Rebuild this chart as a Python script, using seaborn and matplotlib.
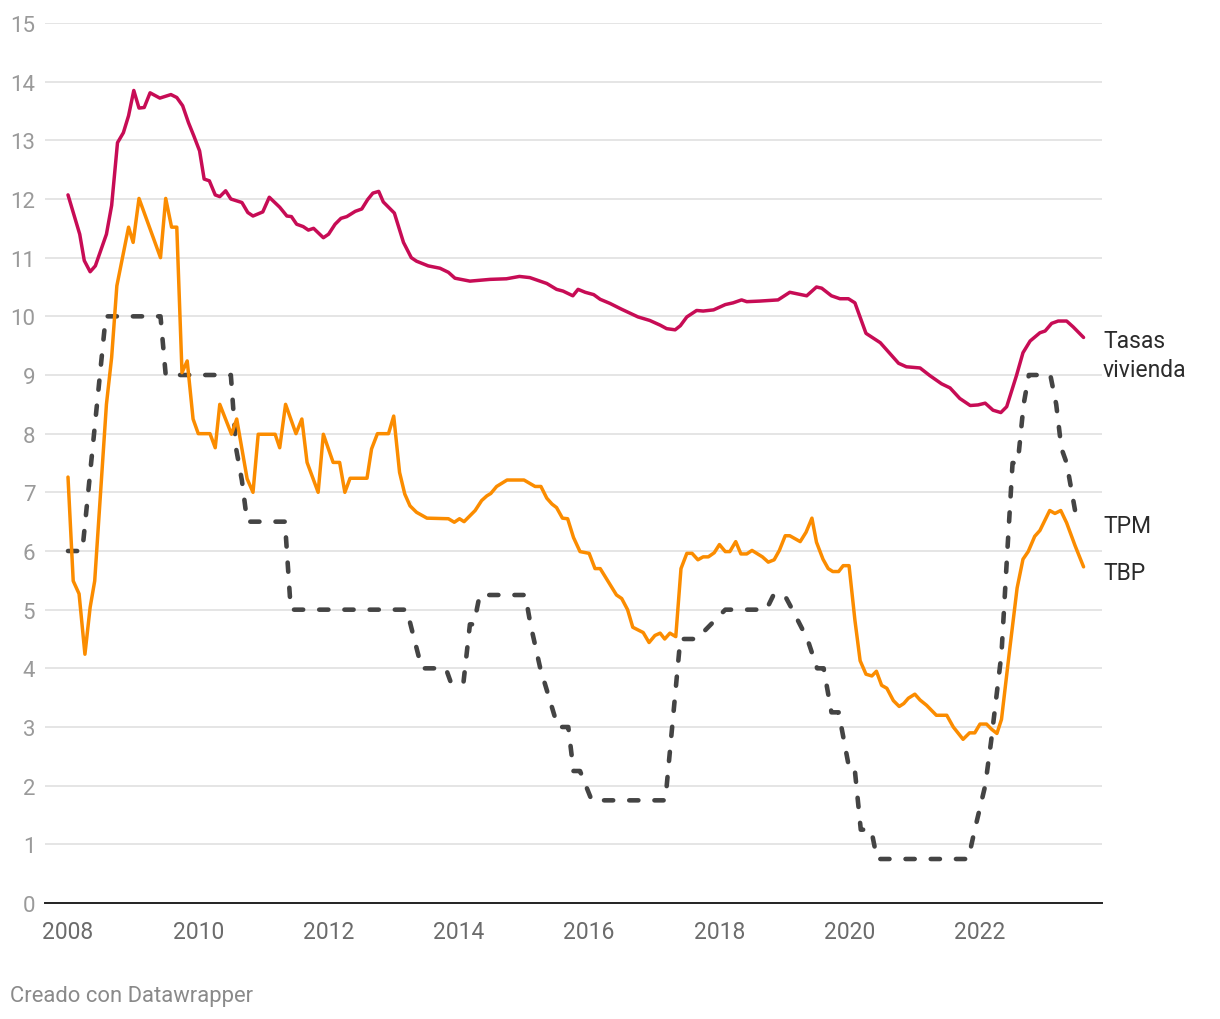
import matplotlib
matplotlib.use("Agg")
import matplotlib.pyplot as plt
import seaborn as sns
import pandas as pd

# --- DATA ---
viv_x = [2008.0, 2008.18, 2008.25, 2008.34, 2008.42, 2008.59, 2008.67, 2008.76, 2008.85, 2008.93,
         2009.01, 2009.09, 2009.17, 2009.26, 2009.41, 2009.58, 2009.67, 2009.76, 2009.85, 2009.93,
         2010.02, 2010.09, 2010.17, 2010.26, 2010.33, 2010.42, 2010.5, 2010.67, 2010.76, 2010.84,
         2010.99, 2011.09, 2011.25, 2011.36, 2011.43, 2011.51, 2011.61, 2011.69, 2011.77, 2011.92,
         2012.0, 2012.1, 2012.19, 2012.28, 2012.41, 2012.51, 2012.6, 2012.68, 2012.77, 2012.84,
         2013.01, 2013.15, 2013.27, 2013.35, 2013.53, 2013.71, 2013.84, 2013.94, 2014.17, 2014.48,
         2014.73, 2014.93, 2015.09, 2015.35, 2015.5, 2015.6, 2015.75, 2015.83, 2015.94, 2016.07,
         2016.17, 2016.32, 2016.5, 2016.75, 2016.93, 2017.09, 2017.19, 2017.32, 2017.4, 2017.5,
         2017.65, 2017.75, 2017.91, 2018.09, 2018.21, 2018.34, 2018.42, 2018.62, 2018.9, 2019.08,
         2019.34, 2019.49, 2019.57, 2019.72, 2019.85, 2019.98, 2020.08, 2020.25, 2020.47, 2020.75,
         2020.87, 2021.08, 2021.23, 2021.41, 2021.54, 2021.69, 2021.85, 2021.97, 2022.08, 2022.2,
         2022.32, 2022.41, 2022.56, 2022.66, 2022.77, 2022.92, 2023.0, 2023.1, 2023.2, 2023.33,
         2023.43, 2023.59]
viv_y = [12.07, 11.4, 10.95, 10.76, 10.86, 11.4, 11.89, 12.96, 13.13, 13.42,
         13.85, 13.55, 13.56, 13.81, 13.72, 13.78, 13.73, 13.59, 13.3, 13.08,
         12.82, 12.34, 12.31, 12.07, 12.04, 12.14, 12.0, 11.94, 11.77, 11.71,
         11.78, 12.03, 11.86, 11.71, 11.7, 11.57, 11.53, 11.47, 11.5, 11.34,
         11.4, 11.57, 11.67, 11.7, 11.79, 11.83, 11.99, 12.1, 12.13, 11.95,
         11.76, 11.26, 11.0, 10.94, 10.86, 10.82, 10.75, 10.65, 10.6, 10.63,
         10.64, 10.68, 10.66, 10.56, 10.46, 10.43, 10.35, 10.46, 10.41, 10.37,
         10.29, 10.22, 10.12, 9.99, 9.93, 9.85, 9.79, 9.77, 9.84, 9.99,
         10.1, 10.09, 10.11, 10.2, 10.23, 10.28, 10.25, 10.26, 10.28, 10.41,
         10.35, 10.5, 10.48, 10.35, 10.3, 10.3, 10.23, 9.71, 9.55, 9.2,
         9.14, 9.12, 8.99, 8.85, 8.78, 8.6, 8.48, 8.49, 8.52, 8.4,
         8.36, 8.46, 8.99, 9.38, 9.58, 9.72, 9.75, 9.88, 9.92, 9.92,
         9.82, 9.64]

tbp_x = [2008.0, 2008.08, 2008.17, 2008.26, 2008.34, 2008.41, 2008.59, 2008.67, 2008.75, 2008.93,
         2009.0, 2009.09, 2009.42, 2009.5, 2009.59, 2009.67, 2009.75, 2009.83, 2009.92, 2010.0,
         2010.18, 2010.26, 2010.33, 2010.51, 2010.59, 2010.75, 2010.84, 2010.92, 2011.18, 2011.25,
         2011.34, 2011.5, 2011.59, 2011.67, 2011.84, 2011.92, 2012.07, 2012.17, 2012.25, 2012.33,
         2012.59, 2012.66, 2012.75, 2012.92, 2013.0, 2013.09, 2013.17, 2013.25, 2013.35, 2013.51,
         2013.84, 2013.93, 2014.01, 2014.08, 2014.25, 2014.35, 2014.43, 2014.49, 2014.58, 2014.74,
         2015.0, 2015.17, 2015.26, 2015.35, 2015.43, 2015.5, 2015.59, 2015.67, 2015.76, 2015.86,
         2016.0, 2016.09, 2016.17, 2016.42, 2016.5, 2016.59, 2016.67, 2016.83, 2016.92, 2017.01,
         2017.09, 2017.16, 2017.24, 2017.33, 2017.41, 2017.5, 2017.58, 2017.67, 2017.75, 2017.83,
         2017.92, 2018.0, 2018.09, 2018.16, 2018.25, 2018.33, 2018.42, 2018.5, 2018.66, 2018.75,
         2018.84, 2018.92, 2019.01, 2019.08, 2019.24, 2019.33, 2019.42, 2019.49, 2019.59, 2019.67,
         2019.74, 2019.83, 2019.9, 2019.99, 2020.08, 2020.16, 2020.25, 2020.34, 2020.41, 2020.49,
         2020.57, 2020.67, 2020.76, 2020.83, 2020.9, 2021.0, 2021.08, 2021.18, 2021.33, 2021.49,
         2021.59, 2021.74, 2021.84, 2021.92, 2022.0, 2022.1, 2022.18, 2022.26, 2022.33, 2022.46,
         2022.57, 2022.66, 2022.74, 2022.84, 2022.92, 2023.07, 2023.15, 2023.24, 2023.33, 2023.46,
         2023.59]
tbp_y = [7.26, 5.49, 5.27, 4.24, 5.04, 5.49, 8.5, 9.3, 10.52, 11.52,
         11.26, 12.01, 11.0, 12.01, 11.52, 11.52, 9.04, 9.24, 8.25, 8.0,
         8.0, 7.76, 8.5, 7.99, 8.25, 7.23, 7.0, 7.99, 7.99, 7.76,
         8.5, 8.0, 8.25, 7.51, 7.0, 7.99, 7.51, 7.51, 7.0, 7.24,
         7.24, 7.74, 8.0, 8.0, 8.3, 7.34, 6.97, 6.77, 6.66, 6.56,
         6.55, 6.49, 6.55, 6.5, 6.69, 6.86, 6.94, 6.98, 7.1, 7.21,
         7.21, 7.1, 7.1, 6.9, 6.8, 6.74, 6.56, 6.55, 6.23, 5.99,
         5.96, 5.7, 5.7, 5.25, 5.19, 5.0, 4.7, 4.61, 4.44, 4.56,
         4.6, 4.5, 4.6, 4.54, 5.7, 5.96, 5.96, 5.85, 5.9, 5.9,
         5.97, 6.11, 5.99, 5.99, 6.16, 5.95, 5.95, 6.01, 5.9, 5.81,
         5.85, 6.01, 6.26, 6.26, 6.16, 6.32, 6.56, 6.15, 5.86, 5.7,
         5.65, 5.65, 5.75, 5.75, 4.82, 4.13, 3.9, 3.87, 3.95, 3.71,
         3.66, 3.45, 3.35, 3.4, 3.49, 3.56, 3.46, 3.37, 3.2, 3.2,
         3.0, 2.79, 2.9, 2.9, 3.05, 3.05, 2.96, 2.89, 3.13, 4.36,
         5.37, 5.86, 5.99, 6.25, 6.35, 6.69, 6.64, 6.69, 6.48, 6.09,
         5.73]

tpm_x = [2008.0, 2008.22, 2008.58, 2009.42, 2009.5, 2010.5, 2010.58, 2010.67, 2010.75, 2011.33,
         2011.42, 2013.2, 2013.43, 2013.8, 2013.88, 2014.07, 2014.17, 2014.23, 2014.32, 2015.02,
         2015.1, 2015.25, 2015.52, 2015.68, 2015.76, 2015.86, 2016.04, 2017.17, 2017.4, 2017.65,
         2018.09, 2018.72, 2018.83, 2019.0, 2019.12, 2019.35, 2019.5, 2019.6, 2019.72, 2019.83,
         2020.0, 2020.08, 2020.17, 2020.33, 2020.42, 2021.82, 2021.92, 2022.08, 2022.17, 2022.25,
         2022.33, 2022.42, 2022.5, 2022.58, 2022.67, 2022.75, 2023.08, 2023.17, 2023.25, 2023.33,
         2023.49]
tpm_y = [6.0, 6.0, 10.0, 10.0, 9.0, 9.0, 7.75, 7.2, 6.5, 6.5,
         5.0, 5.0, 4.0, 4.0, 3.75, 3.75, 4.75, 4.75, 5.25, 5.25,
         4.75, 4.0, 3.0, 3.0, 2.25, 2.25, 1.75, 1.75, 4.5, 4.5,
         5.0, 5.0, 5.25, 5.25, 5.0, 4.5, 4.0, 4.0, 3.25, 3.25,
         2.25, 2.25, 1.25, 1.25, 0.75, 0.75, 1.25, 2.0, 2.75, 3.5,
         4.25, 6.0, 7.5, 7.5, 8.5, 9.0, 9.0, 8.5, 7.75, 7.5,
         6.5]

x_ticks = [2008, 2010, 2012, 2014, 2016, 2018, 2020, 2022]
y_ticks = list(range(0, 16))

# --- ESTILO ---
sns.set_theme(style="white")
plt.rcParams['font.family'] = ['Roboto', 'DejaVu Sans']

COL_VIV = '#c70c55'
COL_TBP = '#fb8c00'
COL_TPM = '#444444'

fig = plt.figure(figsize=(12.2, 10.2), dpi=100)
ax = fig.add_axes([45 / 1220, 116 / 1020, (1102 - 45) / 1220, (904 - 24) / 1020])

# grid
for v in y_ticks[1:]:
    ax.axhline(v, color='#e3e3e3', lw=1.3, zorder=0)

sns.lineplot(x=tpm_x, y=tpm_y, color=COL_TPM, linewidth=3.3, ax=ax, zorder=2)
tpm_line = ax.lines[-1]
tpm_line.set_dashes((2.0, 3.5))
tpm_line.set_dash_capstyle('round')

sns.lineplot(x=tbp_x, y=tbp_y, color=COL_TBP, linewidth=2.5, ax=ax, zorder=3)
sns.lineplot(x=viv_x, y=viv_y, color=COL_VIV, linewidth=2.5, ax=ax, zorder=4)

ax.set_xlim(2007.647, 2023.873)
ax.set_ylim(0, 15)
ax.set_xticks(x_ticks)
ax.set_yticks(y_ticks)
ax.set_xticklabels([str(t) for t in x_ticks], fontsize=16.5, color='#6b6b6b')
ax.set_yticklabels([str(t) for t in y_ticks], fontsize=16, color='#9a9a9a')
ax.tick_params(axis='both', length=0)
ax.tick_params(axis='x', pad=12)
ax.tick_params(axis='y', pad=7)
ax.set_xlabel('')
ax.set_ylabel('')

for s in ['top', 'right', 'left']:
    ax.spines[s].set_visible(False)
ax.spines['bottom'].set_color('#222222')
ax.spines['bottom'].set_linewidth(1.4)

# etiquetas de series
lab_kw = dict(xycoords=('axes fraction', 'data'), ha='left', va='center',
              fontsize=16.5, color='#2b2b2b', annotation_clip=False)
ax.annotate('Tasas\nvivienda', xy=(1.001, 9.34), linespacing=1.3, **lab_kw)
ax.annotate('TPM', xy=(1.001, 6.44), **lab_kw)
ax.annotate('TBP', xy=(1.001, 5.64), **lab_kw)

fig.text(10 / 1220, 1 - 997 / 1020, 'Creado con Datawrapper', fontsize=15.8,
         color='#8a8a8a', ha='left', va='center')

fig.savefig('out.png', dpi=100, facecolor='white')
